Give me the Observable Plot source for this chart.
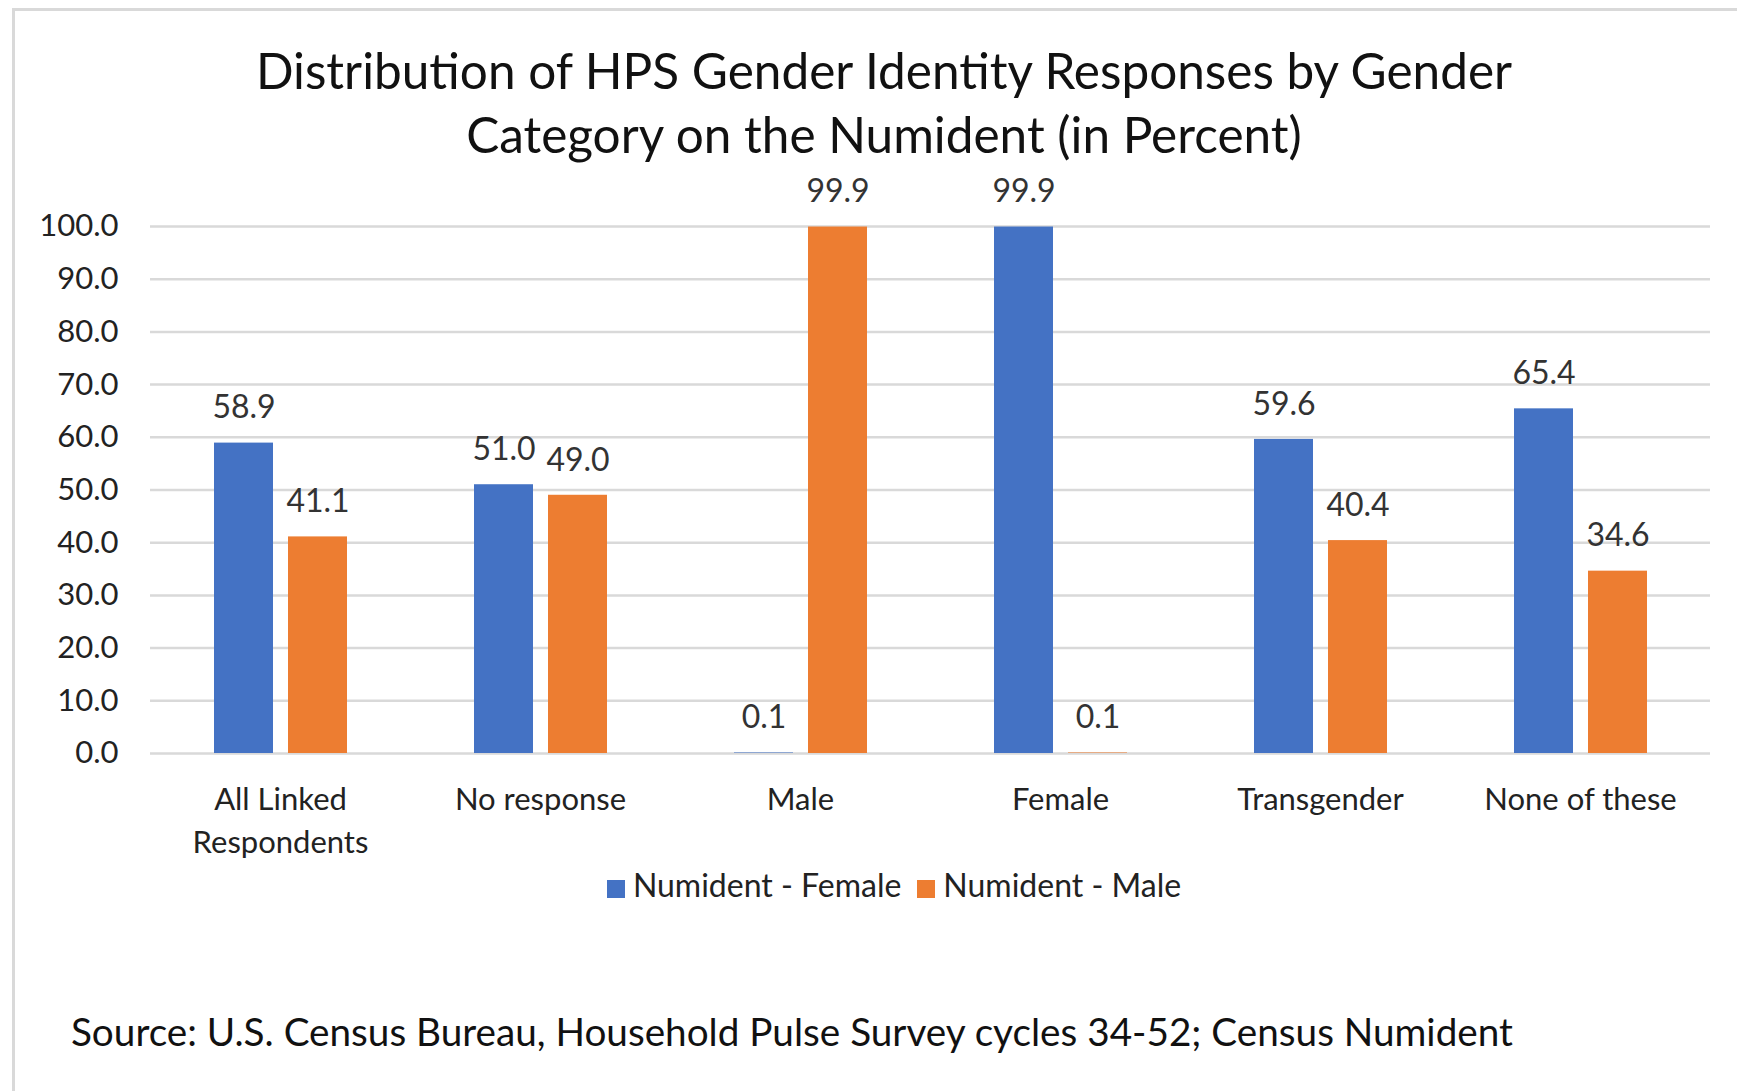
<!DOCTYPE html>
<html><head><meta charset="utf-8">
<script src="https://cdn.jsdelivr.net/npm/d3@7"></script>
<script src="https://cdn.jsdelivr.net/npm/@observablehq/plot@0.6"></script>
<style>
body{margin:0;background:#fff;font-family:Lato,"Open Sans",sans-serif;}
#page{position:relative;width:1737px;height:1091px;overflow:hidden;background:#fff;}
#frame{position:absolute;left:12px;top:8px;width:1760px;height:1120px;border:3px solid #d9d9d9;box-sizing:border-box;}
#title{position:absolute;left:0;width:1768px;top:38px;text-align:center;font-size:49.5px;line-height:64px;color:#111;}
#chart{position:absolute;left:0;top:0;}
#legend{position:absolute;left:0;width:1788px;top:865px;text-align:center;font-size:32px;color:#222;white-space:nowrap;}
#legend span.sw{display:inline-block;width:18px;height:18px;margin-right:8px;vertical-align:-1px;}
#legend span.item{margin:0 8px;}
#source{position:absolute;left:71px;top:1008px;font-size:38.7px;color:#111;white-space:nowrap;}
</style></head>
<body>
<div id="page">
  <div id="frame"></div>
  <div id="title">Distribution of HPS Gender Identity Responses by Gender<br>Category on the Numident (in Percent)</div>
  <div id="chart"></div>
  <div id="legend"></div>
  <div id="source">Source: U.S. Census Bureau, Household Pulse Survey cycles 34-52; Census Numident</div>
</div>
<script>
const categories = ["All Linked Respondents", "No response", "Male", "Female", "Transgender", "None of these"];
const categoryLabels = ["All Linked\nRespondents", "No response", "Male", "Female", "Transgender", "None of these"];
const series = ["Numident - Female", "Numident - Male"];
const femaleValues = [58.9, 51.0, 0.1, 99.9, 59.6, 65.4];
const maleValues = [41.1, 49.0, 99.9, 0.1, 40.4, 34.6];
const yTicks = [0, 10, 20, 30, 40, 50, 60, 70, 80, 90, 100];
const colors = ["#4472C4", "#ED7D31"];

const data = [];
categories.forEach((c, i) => {
  data.push({category: c, series: series[0], value: femaleValues[i]});
  data.push({category: c, series: series[1], value: maleValues[i]});
});

const chart = Plot.plot({
  width: 1737,
  height: 920,
  marginLeft: 148,
  marginRight: 25,
  marginTop: 226,
  marginBottom: 167,
  style: {fontFamily: "Lato, 'Open Sans', sans-serif", fontSize: "30px", color: "#222", background: "transparent", overflow: "visible"},
  fx: {domain: categories, padding: 0, label: null, axis: null},
  x: {domain: series, paddingInner: 0.209, paddingOuter: 0.861, axis: null},
  y: {domain: [0, 100], label: null, axis: null},
  color: {domain: series, range: colors},
  marks: [
    Plot.ruleY(yTicks, {stroke: "#d9d9d9", strokeWidth: 2.5}),
    Plot.barY(data, {fx: "category", x: "series", y: "value", fill: "series"}),
    Plot.text(data, {fx: "category", x: "series", y: "value", text: d => d.value.toFixed(1), dy: -35, fill: "#333", fontSize: 32}),
    Plot.axisY(yTicks, {anchor: "left", tickSize: 0, tickPadding: 32, tickFormat: d3.format(".1f"), label: null, fill: "#222", fontSize: 31}),
    Plot.axisFx({anchor: "bottom", tickSize: 0, tickPadding: 27, label: null, fontSize: 31, fill: "#222", lineHeight: 1.36,
      tickFormat: d => categoryLabels[categories.indexOf(d)]})
  ]
});
document.getElementById("chart").appendChild(chart);

const legend = document.getElementById("legend");
series.forEach((s, i) => {
  const item = document.createElement("span");
  item.className = "item";
  const sw = document.createElement("span");
  sw.className = "sw";
  sw.style.background = colors[i];
  item.appendChild(sw);
  item.appendChild(document.createTextNode(s));
  legend.appendChild(item);
});
</script>
</body></html>
